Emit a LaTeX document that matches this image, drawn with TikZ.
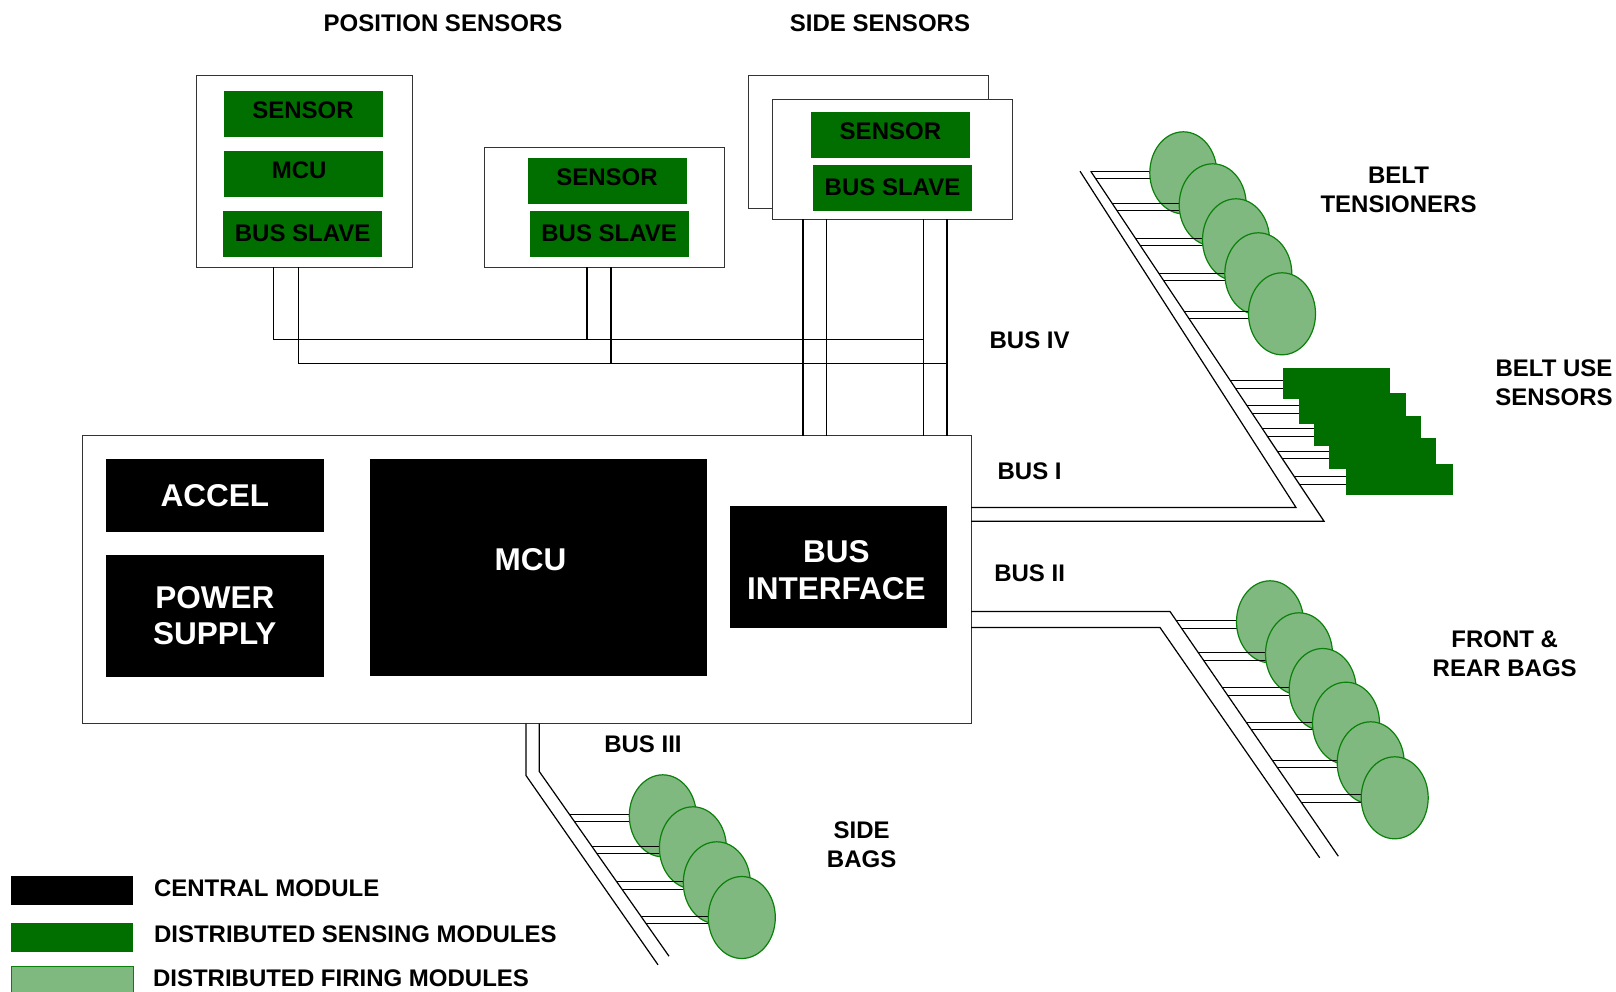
\documentclass[tikz,border=0pt]{standalone}
\usepackage{fontspec}
\setmainfont{Liberation Sans}
\usepackage{tikz}
\usetikzlibrary{shapes.geometric}
\definecolor{sensegreen}{HTML}{006F00}
\definecolor{firegreen}{HTML}{80B97F}
\definecolor{fireline}{HTML}{0B800B}
\newcommand{\smallfont}{\fontsize{24}{29}\selectfont\bfseries}
\newcommand{\bigfont}{\fontsize{31.5}{36.6}\selectfont\bfseries}
\begin{document}
\begin{tikzpicture}[x=1pt,y=-1pt,line width=1.2pt,
every node/.style={inner sep=0pt,outer sep=0pt},
size/.style 2 args={minimum width=#1,minimum height=#2},
frame/.style={draw=black!80,fill=white,rectangle},
sensing/.style={fill=sensegreen,rectangle,size={159pt}{46pt},font=\smallfont,text height=17pt,text depth=7pt},
slave/.style={sensing,text depth=2pt},
central/.style={fill=black,text=white,rectangle,font=\bigfont,align=center},
firing/.style={ellipse,draw=fireline,fill=firegreen,minimum width=67pt,minimum height=82pt},
caption/.style={font=\smallfont,align=center}]
\useasboundingbox (0,-.5) rectangle (1616,990.5);

%side sensors sit behind the bus lines of the front box
\node[frame,size={240pt}{133pt}] (sideback) at (868.5,141.5) {};
\node[frame,size={216pt}{192pt}] (pos1) at (304.3,170.8) {};
\node[sensing] (pos1s) at (303,113) {SENSOR};
\node[sensing] (pos1m) at (303.7,173) {MCU\hspace*{9pt}};
\node[slave] (pos1b) at (302.7,233.5) {BUS SLAVE};
\node[frame,size={240pt}{120pt}] (pos2) at (604.4,206.8) {};
\node[sensing] (pos2s) at (607,180.3) {SENSOR};
\node[slave,text depth=3pt] (pos2b) at (609.2,233.8) {BUS SLAVE};
\node[frame,size={240pt}{120pt}] (side) at (892.5,158.8) {};
\node[sensing] (sides) at (890.4,134) {SENSOR};
\node[slave,text depth=3pt] (sideb) at (892.5,187.5) {BUS SLAVE};

\node[frame,size={889pt}{288pt}] (main) at (526.7,579.2) {};
\node[central,size={218pt}{73pt}] (accel) at (214.8,495.2) {ACCEL};
\node[central,size={218pt}{122pt}] (power) at (214.8,615.2) {POWER\\SUPPLY};
\node[central,size={337pt}{217pt},text height=22pt,text depth=17pt] (mcu) at (538.5,567.3) {MCU\hspace*{16pt}};
\node[central,size={217pt}{122pt},text height=64pt] (iface) at (838.4,566.8) {BUS\hspace*{4pt}\\INTERFACE\hspace*{4pt}};

%bus IV
\coordinate (iva) at (273.8,338.7);
\coordinate (ivb) at (923.3,338.7);
\coordinate (ivc) at (298.5,363);
\coordinate (ivd) at (946.9,363);
\coordinate (ive) at (587,338.7);
\coordinate (ivf) at (611,363);
\coordinate (ivg) at (803,0);
\coordinate (ivh) at (826.7,0);
\draw (pos1.south -| iva) -- (iva) -- (ivb);
\draw (pos1.south -| ivc) -- (ivc) -- (ivd);
\draw (pos2.south -| ive) -- (ive);
\draw (pos2.south -| ivf) -- (ivf);
\foreach \x in {ivg,ivh,ivb,ivd}{
	\draw (side.south -| \x) -- (main.north -| \x);
}

%bus I, II and III
\coordinate (ia) at (1296,507);
\coordinate (ib) at (1080,170.7);
\coordinate (ic) at (1324,520.7);
\coordinate (id) at (1090.7,170.7);
\draw (main.east |- ia) -- (ia) -- (ib);
\draw (main.east |- ic) -- (ic) -- (id);
\coordinate (iia) at (1170,611);
\coordinate (iib) at (1338.3,855.7);
\coordinate (iic) at (1160,627);
\coordinate (iid) at (1319.7,857.3);
\draw (main.east |- iia) -- (iia) -- (iib);
\draw (main.east |- iic) -- (iic) -- (iid);
\coordinate (iiia) at (526,775);
\coordinate (iiib) at (658,964.3);
\coordinate (iiic) at (539.3,771);
\coordinate (iiid) at (669,955.7);
\draw (main.south -| iiia) -- (iiia) -- (iiib);
\draw (main.south -| iiic) -- (iiic) -- (iiid);

%stubs go first so that each module covers its own pair
\def\bx{1090.7}\def\by{170.7}\def\bk{.666}
\foreach \n/\cx/\cy/\ya/\yb in {bt1/1183.3/172.3/170.7/178.3,bt2/1212.7/204.3/203/210.3,bt3/1236/239.3/238/245.3,bt4/1258.3/273.3/272.7/279.7,bt5/1282/313.3/310.7/317.7}{
	\coordinate (\n a) at ({\bx+(\ya-\by)*\bk},\ya);
	\coordinate (\n b) at ({\bx+(\yb-\by)*\bk},\yb);
	\coordinate (\n c) at (\cx,\ya);
	\coordinate (\n d) at (\cx,\yb);
	\draw (\n a) -- (\n c) (\n b) -- (\n d);
	\node[firing] (\n) at (\cx,\cy) {};
}
\foreach \n/\cx/\cy/\ya/\yb in {bu1/1336.5/383/380.3/387.7,bu2/1352.2/407.9/405.3/412.7,bu3/1367.5/430.7/428.3/435.7,bu4/1382.5/453.2/451/458.3,bu5/1399.2/478.9/476.3/483.7}{
	\coordinate (\n a) at ({\bx+(\ya-\by)*\bk},\ya);
	\coordinate (\n b) at ({\bx+(\yb-\by)*\bk},\yb);
	\coordinate (\n c) at (\cx,\ya);
	\coordinate (\n d) at (\cx,\yb);
	\draw (\n a) -- (\n c) (\n b) -- (\n d);
	\node[fill=sensegreen,size={107pt}{30.5pt}] (\n) at (\cx,\cy) {};
}
\def\bx{1170}\def\by{611}\def\bk{.688}
\foreach \n/\cx/\cy/\ya/\yb in {fb1/1270/621.3/620/627.7,fb2/1299/653.3/652/659.7,fb3/1322.7/689/687.3/694.7,fb4/1346/722.7/721.7/729,fb5/1370.7/762.3/759.7/767,fb6/1394.7/797.3/794.3/801.7}{
	\coordinate (\n a) at ({\bx+(\ya-\by)*\bk},\ya);
	\coordinate (\n b) at ({\bx+(\yb-\by)*\bk},\yb);
	\coordinate (\n c) at (\cx,\ya);
	\coordinate (\n d) at (\cx,\yb);
	\draw (\n a) -- (\n c) (\n b) -- (\n d);
	\node[firing] (\n) at (\cx,\cy) {};
}
\def\bx{539.3}\def\by{771}\def\bk{.702}
\foreach \n/\cx/\cy/\ya/\yb in {sb1/662.8/815.3/814/821,sb2/692.9/847.3/846/853.3,sb3/716.8/882.3/881.3/888.7,sb4/741.8/917/915.7/922.7}{
	\coordinate (\n a) at ({\bx+(\ya-\by)*\bk},\ya);
	\coordinate (\n b) at ({\bx+(\yb-\by)*\bk},\yb);
	\coordinate (\n c) at (\cx,\ya);
	\coordinate (\n d) at (\cx,\yb);
	\draw (\n a) -- (\n c) (\n b) -- (\n d);
	\node[firing] (\n) at (\cx,\cy) {};
}

\node[caption] (lpos) at (443,22.7) {POSITION SENSORS};
\node[caption] (lside) at (880,22.7) {SIDE SENSORS};
\node[caption] (lbt) at (1398.5,189.5) {BELT\\TENSIONERS};
\node[caption] (lbu) at (1554,382.5) {BELT USE\\SENSORS};
\node[caption] (liv) at (1029.6,340) {BUS IV};
\node[caption] (li) at (1029.6,471) {BUS I};
\node[caption] (lii) at (1029.6,573) {BUS II};
\node[caption] (liii) at (643,744) {BUS III};
\node[caption] (lsb) at (861.6,844) {SIDE\\BAGS};
\node[caption] (lfb) at (1504.7,653.5) {FRONT \&\\REAR BAGS};

%legend
\node[fill=black,size={122pt}{29pt}] (keya) at (72,890.3) {};
\node[fill=sensegreen,size={122pt}{29pt}] (keyb) at (72,936.8) {};
\node[draw=fireline,line width=1pt,fill=firegreen,size={122pt}{29pt},anchor=north] (keyc) at (72,966) {};
\node[caption,anchor=west] (texta) at (154,888) {CENTRAL MODULE};
\node[caption,anchor=west] (textb) at (154,934) {DISTRIBUTED SENSING MODULES};
\node[caption,anchor=west] (textc) at (153,977.5) {DISTRIBUTED FIRING MODULES};
\end{tikzpicture}
\end{document}
